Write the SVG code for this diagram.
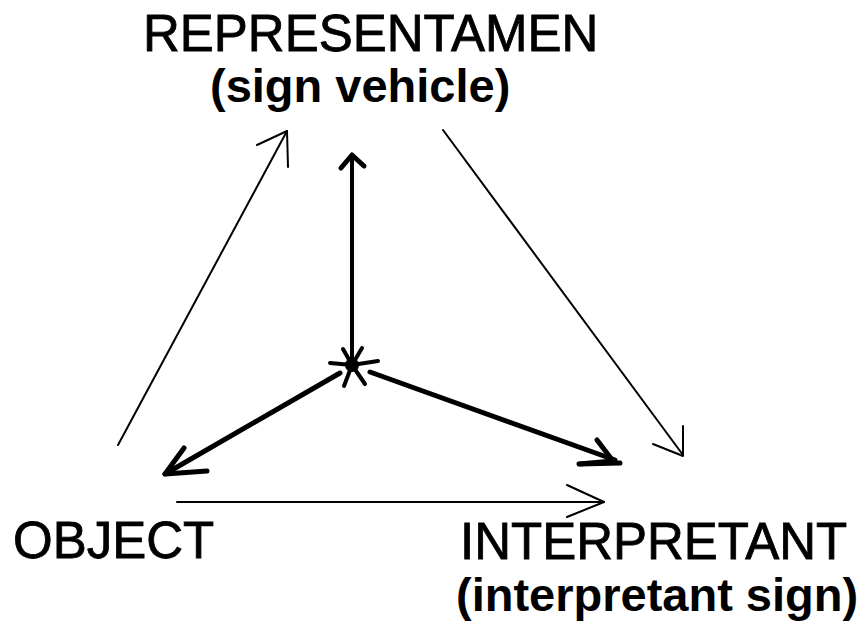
<svg xmlns="http://www.w3.org/2000/svg" width="861" height="623" viewBox="0 0 861 623">
<style>
.bg{fill:#fff}
.lbl{font-family:"Liberation Sans",Arial,sans-serif;fill:#000}
.cap{font-size:51px;stroke:#000;stroke-width:0.8px}
.sub{font-size:47px;font-weight:bold}
.thin{fill:none;stroke:#000;stroke-width:2;stroke-linecap:round;stroke-linejoin:round}
.thick{fill:none;stroke:#000;stroke-width:5;stroke-linecap:round;stroke-linejoin:round}
.mid{fill:none;stroke:#000;stroke-width:4;stroke-linecap:round;stroke-linejoin:round}
</style>
<rect class="bg" x="0" y="0" width="861" height="623"/>
<g id="representamen">
<text class="lbl cap" x="143" y="51">REPRESENTAMEN</text>
<text class="lbl sub" x="210" y="102">(sign vehicle)</text>
</g>
<g id="object">
<text class="lbl cap" x="13" y="558">OBJECT</text>
</g>
<g id="interpretant">
<text class="lbl cap" x="460" y="559" font-size="50">INTERPRETANT</text>
<text class="lbl sub" x="456" y="611" font-size="44">(interpretant sign)</text>
</g>
<g id="connectors">
<line class="thin" x1="118" y1="445" x2="287" y2="131"/>
<polyline class="thin" points="257,145 287,131 288,167"/>
<line class="thin" x1="443" y1="130" x2="683" y2="455"/>
<polyline class="thin" points="653,444 683,456 683,426"/>
<line class="thin" x1="177" y1="502" x2="604" y2="502"/>
<polyline class="thin" points="567,485 604,502 567,517"/>
<line class="mid" x1="352" y1="365" x2="352" y2="156"/>
<polyline class="thick" points="341,168 352,155 364,166"/>
<line class="thick" x1="340" y1="373" x2="165" y2="474"/>
<polyline class="thick" points="184,448 165,474 207,471"/>
<line class="thick" x1="370" y1="372" x2="615" y2="460"/>
<polyline class="thick" points="597,440 613,461 579,464"/>
<line class="thick" x1="580" y1="464" x2="620" y2="463"/>
</g>
<g id="hub">
<circle cx="352" cy="365" r="7" fill="#000"/>
<line class="mid" x1="352" y1="365" x2="343" y2="349"/>
<line class="mid" x1="352" y1="365" x2="362" y2="348"/>
<line class="mid" x1="352" y1="365" x2="330" y2="363"/>
<line class="mid" x1="352" y1="365" x2="378" y2="361"/>
<line class="mid" x1="352" y1="365" x2="344" y2="386"/>
<line class="mid" x1="352" y1="365" x2="365" y2="384"/>
</g>
</svg>
